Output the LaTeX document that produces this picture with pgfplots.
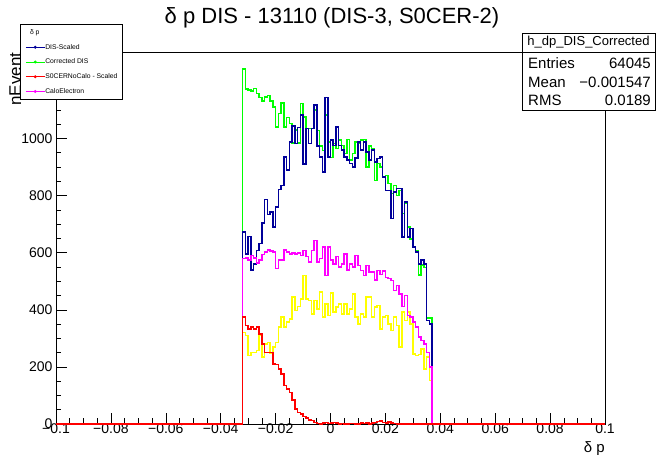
\documentclass[border=0pt]{standalone}
\usepackage{pgfplots}
\usepackage{pgfplotstable}
\pgfplotsset{compat=1.18}
\usepackage{fontspec}
\setmainfont{Liberation Sans}

\definecolor{rblue}{RGB}{0,0,153}
\definecolor{rgreen}{RGB}{0,255,0}
\definecolor{rred}{RGB}{255,0,0}
\definecolor{rmag}{RGB}{255,0,255}
\definecolor{ryel}{RGB}{255,255,0}

\pgfplotstableread{
x blue green red mag yel
-0.100 0 0 0 0 0
-0.032 672 1243 374 579 321
-0.031 596 1173 345 582 310
-0.030 657 1170 333 575 240
-0.029 540 1167 339 590 251
-0.028 561 1175 333 582 251
-0.027 608 1158 339 564 257
-0.026 632 1143 316 575 310
-0.025 704 1132 281 594 234
-0.024 786 1146 251 602 281
-0.023 734 1150 251 610 286
-0.022 742 1132 251 606 248
-0.021 690 1111 210 602 269
-0.020 760 1041 208 544 286
-0.019 821 1088 193 575 339
-0.018 836 1125 175 575 374
-0.017 935 1041 134 610 339
-0.016 889 1074 123 602 357
-0.015 988 1052 111 596 368
-0.014 1043 985 84 599 444
-0.013 982 1030 52 596 398
-0.012 1038 985 41 599 412
-0.011 1082 1122 35 590 438
-0.010 910 1075 26 608 520
-0.009 1035 1035 21 587 438
-0.008 982 1035 14 567 433
-0.007 1035 1035 12 608 386
-0.006 1117 1100 6 643 433
-0.005 973 1028 2 567 403
-0.004 935 973 0 579 462
-0.003 883 958 3 620 374
-0.002 1144 1082 5 520 421
-0.001 935 988 2 620 380
0.000 994 933 4 575 458
0.001 976 982 6 561 392
0.002 1041 965 3 587 409
0.003 976 994 0 550 421
0.004 960 976 2 561 386
0.005 935 947 0 596 421
0.006 924 997 0 540 386
0.007 912 924 2 561 403
0.008 900 947 1 550 456
0.009 932 988 0 590 374
0.010 988 982 0 555 351
0.011 960 994 3 538 386
0.012 988 997 2 520 374
0.013 953 900 4 555 444
0.014 924 973 0 532 444
0.015 960 965 3 532 374
0.016 918 853 5 505 409
0.017 930 912 8 538 415
0.018 935 900 10 524 333
0.019 865 865 6 536 374
0.020 818 871 4 514 380
0.021 818 842 7 509 351
0.022 719 807 3 503 327
0.023 812 836 2 468 374
0.024 824 801 0 485 345
0.025 824 818 0 456 269
0.026 655 737 0 412 392
0.027 778 772 0 450 362
0.028 655 690 0 380 392
0.029 684 648 0 374 351
0.030 620 620 0 357 245
0.031 602 608 0 339 240
0.032 560 522 0 304 243
0.033 575 557 0 292 263
0.034 560 548 0 281 193
0.035 362 372 0 251 234
0.036 351 372 0 199 152
0.037 0 0 0 0 0
0.100 0 0 0 0 0
}\histdata

\begin{document}
\begin{tikzpicture}
\path[use as bounding box] (0pt,0pt) rectangle (656pt,455pt);
\node[rotate=90, anchor=base, inner sep=0pt, font=\fontsize{17}{17}\selectfont] at (21pt,376pt) {nEvent};
\begin{axis}[
  at={(56pt,31pt)}, anchor=south west,
  width=549pt, height=372pt, scale only axis,
  xmin=-0.1, xmax=0.1, ymin=0, ymax=1303,
  clip=false,
  xtick={-0.1,-0.08,-0.06,-0.04,-0.02,0,0.02,0.04,0.06,0.08,0.1},
  xticklabels={−0.1,−0.08,−0.06,−0.04,−0.02,0,0.02,0.04,0.06,0.08,0.1},
  scaled x ticks=false,
  minor x tick num=3,
  ytick={0,200,400,600,800,1000,1200},
  yticklabels={0,200,400,600,800,1000,1200},
  minor y tick num=3,
  tick pos=left, tick align=inside,
  major tick length=11pt, minor tick length=5.5pt,
  tick style={black, line width=0.6pt},
  axis line style={black, line width=0.8pt},
  ticklabel style={font=\fontsize{14}{14}\selectfont},
  xticklabel style={yshift=3.5pt},
  xlabel={δ p},
  xlabel style={at={(axis description cs:1,0)}, anchor=north east, yshift=-17pt, inner sep=0pt, font=\fontsize{15}{15}\selectfont},
  legend style={at={(axis description cs:-0.06557,1.07527)}, anchor=north west,
    draw=black, fill=white, line width=0.6pt,
    font=\fontsize{6.8}{7}\selectfont,
    inner xsep=5pt, inner ysep=5pt,
    nodes={inner sep=0pt, text height=5pt, text depth=1.5pt},
    row sep=8.25pt,
    /tikz/every even column/.append style={column sep=3pt}},
  legend cell align=left,
  legend image code/.code={\draw[#1] (0pt,0pt) -- (19pt,0pt); \fill[#1] (9.5pt,0pt) circle (0.9pt);},
  every axis plot/.append style={line width=1.5pt, const plot mark left, forget plot},
]
\addplot[rgreen] table[x=x, y=green] {\histdata};
\addplot[rblue] table[x=x, y=blue] {\histdata};
\addplot[ryel] table[x=x, y=yel] {\histdata};
\addplot[rmag] table[x=x, y=mag] {\histdata};
\addplot[rred] table[x=x, y=red] {\histdata};

\addlegendimage{empty legend}\addlegendentry{\hspace{-22pt}δ p}
\addlegendimage{rblue, line width=1pt}\addlegendentry{DIS-Scaled}
\addlegendimage{rgreen, line width=1pt}\addlegendentry{Corrected DIS}
\addlegendimage{rred, line width=1pt}\addlegendentry{S0CERNoCalo - Scaled}
\addlegendimage{rmag, line width=1pt}\addlegendentry{CaloElectron}
\end{axis}

\node[font=\fontsize{22}{22}\selectfont] at (332pt,437pt) {δ p DIS - 13110 (DIS-3, S0CER-2)};

\draw[fill=white, line width=0.8pt] (522pt,345pt) rectangle (655pt,422pt);
\draw[line width=0.8pt] (522pt,403pt) -- (655pt,403pt);
\node[font=\fontsize{13}{13}\selectfont] at (588.5pt,412.5pt) {h\_dp\_DIS\_Corrected};
\node[font=\fontsize{15}{15}\selectfont, anchor=base west, inner sep=0pt] at (528pt,386pt) {Entries};
\node[font=\fontsize{15}{15}\selectfont, anchor=base east, inner sep=0pt] at (651pt,386pt) {64045};
\node[font=\fontsize{15}{15}\selectfont, anchor=base west, inner sep=0pt] at (528pt,367pt) {Mean};
\node[font=\fontsize{15}{15}\selectfont, anchor=base east, inner sep=0pt] at (651pt,367pt) {−0.001547};
\node[font=\fontsize{15}{15}\selectfont, anchor=base west, inner sep=0pt] at (528pt,349pt) {RMS};
\node[font=\fontsize{15}{15}\selectfont, anchor=base east, inner sep=0pt] at (651pt,349pt) {0.0189};
\end{tikzpicture}
\end{document}
